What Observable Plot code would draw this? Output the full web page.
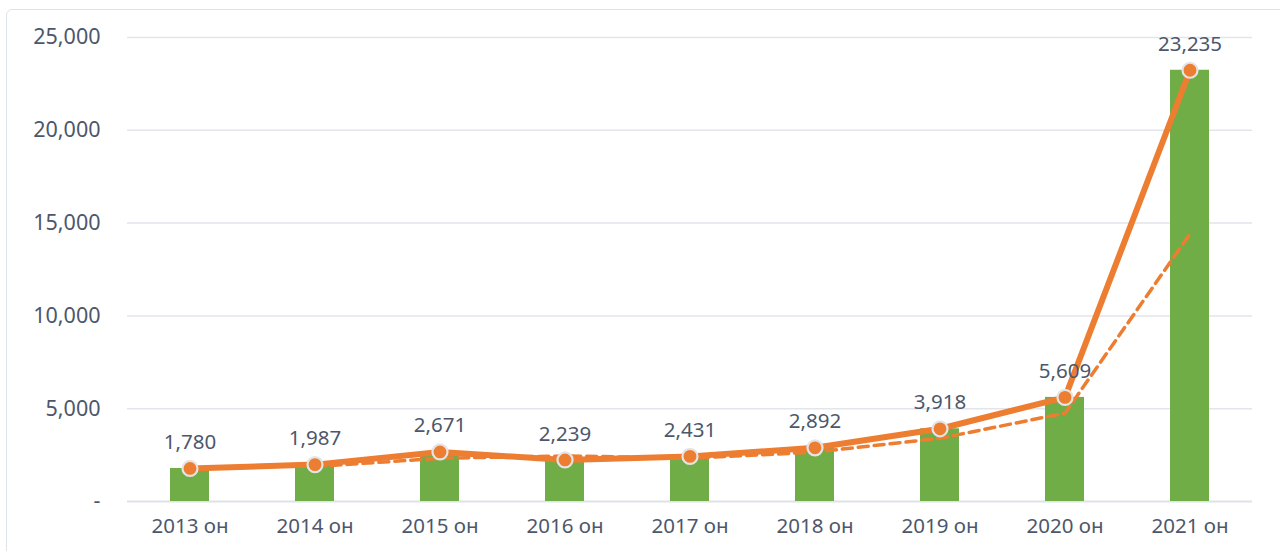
<!DOCTYPE html>
<html>
<head>
<meta charset="utf-8">
<script src="https://cdn.jsdelivr.net/npm/d3@7"></script>
<script src="https://cdn.jsdelivr.net/npm/@observablehq/plot@0.6"></script>
<style>
  html, body { margin: 0; padding: 0; background: #fff; overflow: hidden; }
  #frame { position: absolute; left: 6px; top: 9px; width: 1300px; height: 600px;
           border: 1.5px solid #dfe3ea; border-radius: 6px; box-sizing: border-box; }
  #chart { position: absolute; left: 0; top: 0; }
</style>
</head>
<body>
<div id="frame"></div>
<div id="chart"></div>
<script>
const years = ["2013 он","2014 он","2015 он","2016 он","2017 он","2018 он","2019 он","2020 он","2021 он"];
const values = [1780, 1987, 2671, 2239, 2431, 2892, 3918, 5609, 23235];
// dashed trend line (starts at 2014)
const trend = [null, 1885, 2330, 2455, 2335, 2660, 3405, 4760, 14420];
const yTicks = [0, 5000, 10000, 15000, 20000, 25000];

const data = years.map((y, i) => ({year: y, value: values[i]}));
const trendData = years.map((y, i) => ({year: y, value: trend[i]})).filter(d => d.value != null);

const textColor = "#4d576b";
const fmt = d3.format(",");

const chart = Plot.plot({
  width: 1280,
  height: 551,
  marginLeft: 127,
  marginRight: 28,
  marginTop: 37,
  marginBottom: 50,
  style: {fontFamily: "'Noto Sans', 'Open Sans', sans-serif", fontSize: "20px", color: textColor, background: "transparent"},
  x: {domain: years, paddingInner: 0.69, paddingOuter: 0.345, label: null},
  y: {domain: [0, 25000], label: null},
  marks: [
    Plot.ruleY(yTicks.filter(d => d > 0), {stroke: "#e2e5ec", strokeWidth: 1.5}),
    Plot.ruleY([0], {stroke: "#dde1e8", strokeWidth: 2}),
    Plot.barY(data, {x: "year", y: "value", fill: "#70AD47"}),
    Plot.line(trendData, {x: "year", y: "value", stroke: "#ED7D31", strokeWidth: 3.5, strokeDasharray: "10,6"}),
    Plot.line(data, {x: "year", y: "value", stroke: "#ED7D31", strokeWidth: 6}),
    Plot.dot(data, {x: "year", y: "value", r: 7.5, fill: "#ED7D31", stroke: "#e4e4e4", strokeWidth: 2.2}),
    Plot.text(data, {x: "year", y: "value", text: d => fmt(d.value), dy: -26, fill: textColor, fontSize: 20.5}),
    Plot.axisX({tickSize: 0, tickPadding: 17, fontSize: 20.5, color: textColor}),
    Plot.axisY({ticks: yTicks, tickSize: 0, tickPadding: 27, fontSize: 21.5, color: textColor,
                tickFormat: d => d === 0 ? "-" : fmt(d)})
  ]
});
document.getElementById("chart").appendChild(chart);
</script>
</body>
</html>
